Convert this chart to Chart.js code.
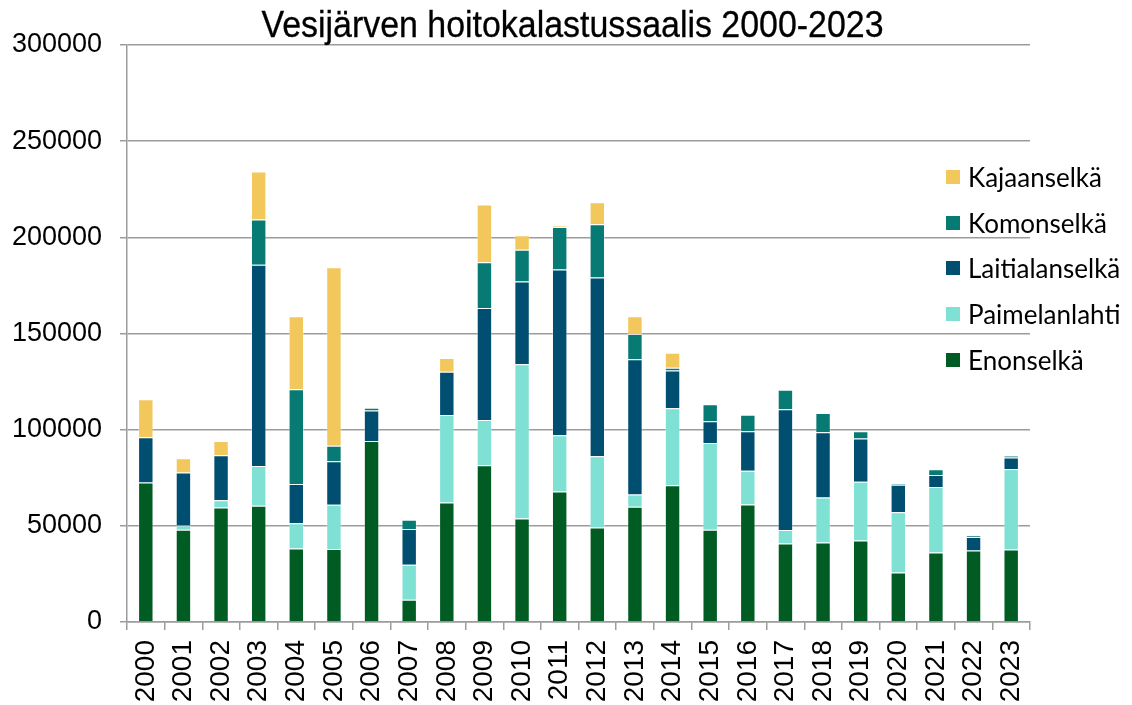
<!DOCTYPE html>
<html>
<head>
<meta charset="utf-8">
<script src="https://cdn.jsdelivr.net/npm/chart.js@4"></script>
<style>
  html, body { margin:0; padding:0; background:#fff; }
  #wrap { position:relative; width:1132px; height:705px; }
  #title { position:absolute; left:0; width:1145px; top:4px; text-align:center;
    font-family:'Liberation Sans Narrow','Arial Narrow','Liberation Sans',sans-serif; font-size:36px; color:#000;
    transform:scaleX(0.942); transform-origin:572px 0; -webkit-text-stroke:0.3px #000; }
  #legend { position:absolute; left:946px; top:154px; font-family:Lato,'Noto Sans',sans-serif; font-size:26px; color:#000; }
  .item { display:flex; align-items:center; height:45.8px; white-space:nowrap; }
  .box { width:14px; height:14px; margin-right:8px; flex:none; }
</style>
</head>
<body>
<div id="wrap">
  <canvas id="c" width="1132" height="705"></canvas>
  <div id="title">Vesijärven hoitokalastussaalis 2000-2023</div>
  <div id="legend"></div>
</div>
<script>
const years = ['2000','2001','2002','2003','2004','2005','2006','2007','2008','2009','2010','2011','2012','2013','2014','2015','2016','2017','2018','2019','2020','2021','2022','2023'];
const enonselka = [72500,48000,59500,60500,38200,37900,94100,11600,62100,81500,53800,67800,49100,59900,71100,47900,61100,40800,41300,42400,25800,36100,37200,37700];
const paimelanlahti = [0,2200,3800,20600,13200,23000,0,18200,45500,23500,80200,29300,37100,6400,40000,45200,17500,7000,23400,30500,31200,34100,0,41800];
const laitialanselka = [23500,27500,23400,104700,20300,22700,15900,18500,22500,58300,43100,86200,92900,70300,19700,11300,20600,62800,34000,22500,14400,6200,7000,6000];
const komonselka = [0,0,0,23500,49300,8100,1400,4800,0,23700,16400,22100,27700,13100,1400,8800,8600,10200,10000,3800,500,3000,800,1000];
const kajaanselka = [19800,7500,7400,24900,38000,92800,0,0,7100,30100,7600,500,11400,9300,7800,0,0,0,0,0,0,0,0,0];
const yTicks = [0,50000,100000,150000,200000,250000,300000];

const series = [
  {label:'Enonselkä', data:enonselka, color:'#005C22'},
  {label:'Paimelanlahti', data:paimelanlahti, color:'#7FE1D3'},
  {label:'Laitialanselkä', data:laitialanselka, color:'#004F71'},
  {label:'Komonselkä', data:komonselka, color:'#087A74'},
  {label:'Kajaanselkä', data:kajaanselka, color:'#F2C75C'}
];

const gridColor = '#9c9c9c';
const chart = new Chart(document.getElementById('c'), {
  type:'bar',
  data:{
    labels:years,
    datasets:series.map(s => ({label:s.label, data:s.data, backgroundColor:s.color,
      borderColor:'rgba(255,255,255,0.35)', borderWidth:1,
      barPercentage:0.41, categoryPercentage:1}))
  },
  options:{
    responsive:false, animation:false,
    layout:{padding:{top:45, right:102, left:0, bottom:0}},
    plugins:{legend:{display:false}, title:{display:false}, tooltip:{enabled:false}},
    scales:{
      x:{stacked:true,
        grid:{offset:true, drawOnChartArea:false, drawTicks:true, tickLength:8, color:gridColor, lineWidth:1.5},
        border:{display:true, color:gridColor, width:1.5},
        ticks:{minRotation:90, maxRotation:90, color:'#000', padding:10,
          font:{family:"'Liberation Sans',Arial,sans-serif", size:28}},
        afterFit:s => { s.height = 83; }
      },
      y:{stacked:true, min:0, max:300000,
        afterBuildTicks:s => { s.ticks = yTicks.map(v => ({value:v})); },
        grid:{color:gridColor, lineWidth:1.5, tickLength:7, drawTicks:true},
        border:{display:true, color:gridColor, width:1.5},
        ticks:{color:'#000', padding:18, callback:v => String(v),
          font:{family:"'Liberation Sans',Arial,sans-serif", size:27}},
        afterFit:s => { s.width = 127; }
      }
    }
  }
});

const lg = document.getElementById('legend');
series.slice().reverse().forEach(s => {
  const d = document.createElement('div'); d.className = 'item';
  const b = document.createElement('span'); b.className = 'box'; b.style.background = s.color;
  const t = document.createElement('span'); t.textContent = s.label;
  d.appendChild(b); d.appendChild(t); lg.appendChild(d);
});
</script>
</body>
</html>
